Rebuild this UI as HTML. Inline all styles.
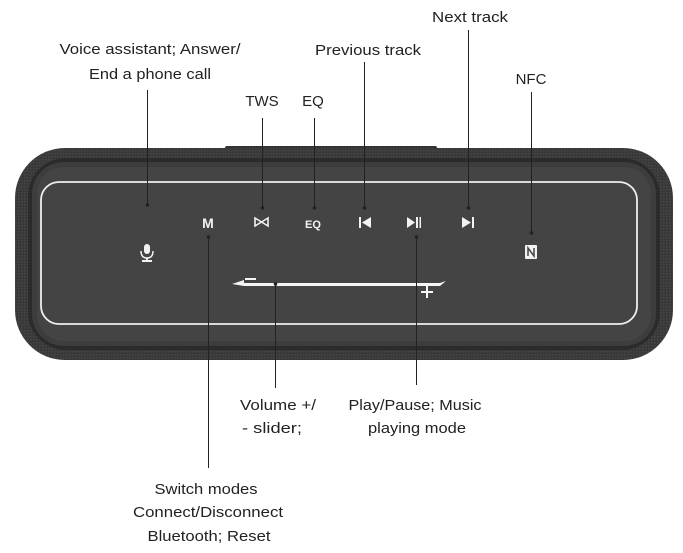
<!DOCTYPE html>
<html><head><meta charset="utf-8"><style>html,body{margin:0;padding:0;background:#fff}svg{display:block}</style></head>
<body>
<svg width="683" height="553" viewBox="0 0 683 553" xmlns="http://www.w3.org/2000/svg" font-family="Liberation Sans, sans-serif" font-size="15" fill="#222">
<defs>
<pattern id="fab" width="3" height="3" patternUnits="userSpaceOnUse"><rect width="3" height="3" fill="#383838"/><rect width="1.5" height="1.5" fill="#474747"/></pattern>
</defs>
<path d="M222 152 L226 146 L436 146 L440 152 Z" fill="#333"/>
<rect x="15" y="148" width="658" height="212" rx="50" fill="url(#fab)"/>
<rect x="28" y="158" width="632" height="192" rx="38" fill="#2b2b2b"/>
<rect x="32" y="162" width="624" height="184" rx="32" fill="#3d3d3d"/>
<rect x="37" y="167" width="614" height="174" rx="27" fill="#444"/>
<rect x="41" y="182" width="596" height="142" rx="18" fill="none" stroke="#eee" stroke-width="1.8"/>
<g fill="#f2f2f2" font-weight="bold" font-size="13">
<text x="208" y="228" text-anchor="middle" font-size="14">M</text>
<text x="313" y="228" text-anchor="middle" font-size="11">EQ</text>
</g>
<path d="M255 218 L268 226 L268 218 L255 226 Z" fill="none" stroke="#f2f2f2" stroke-width="1.6"/>
<rect x="359" y="217" width="2" height="11" fill="#f2f2f2"/><path d="M362 222.5 L371 217 L371 228 Z" fill="#f2f2f2"/>
<path d="M407 217 L415 222.5 L407 228 Z" fill="#f2f2f2"/><rect x="416" y="217" width="2" height="11" fill="#f2f2f2"/><rect x="419.5" y="217" width="1.5" height="11" fill="#f2f2f2"/>
<path d="M462 217 L471 222.5 L462 228 Z" fill="#f2f2f2"/><rect x="472" y="217" width="2" height="11" fill="#f2f2f2"/>
<rect x="144" y="244" width="6" height="10" rx="3" fill="#f2f2f2"/>
<path d="M141 251 Q141 258 147 258 Q153 258 153 251" fill="none" stroke="#f2f2f2" stroke-width="1.5"/>
<rect x="146" y="258" width="2" height="3" fill="#f2f2f2"/><rect x="142" y="260" width="10" height="2" fill="#f2f2f2"/>
<rect x="525" y="245" width="12" height="14" rx="1" fill="#f2f2f2"/>
<path d="M528 256 L528 248 L534 256 L534 248" fill="none" stroke="#444" stroke-width="1.5"/>
<path d="M232 284 L244 280 L244 283 L440 283 L446 281 L440 286 L244 286 Z" fill="#f5f5f5"/>
<rect x="245" y="278" width="11" height="2" fill="#f5f5f5"/>
<rect x="421" y="291" width="12" height="2" fill="#f5f5f5"/><rect x="426" y="286" width="2" height="12" fill="#f5f5f5"/>
<g stroke="#222" stroke-width="1">
<line x1="147.5" y1="90" x2="147.5" y2="205"/>
<line x1="262.5" y1="118" x2="262.5" y2="208"/>
<line x1="314.5" y1="118" x2="314.5" y2="208"/>
<line x1="364.5" y1="62" x2="364.5" y2="208"/>
<line x1="468.5" y1="30" x2="468.5" y2="208"/>
<line x1="531.5" y1="92" x2="531.5" y2="233"/>
<line x1="208.5" y1="237" x2="208.5" y2="468"/>
<line x1="275.5" y1="284" x2="275.5" y2="388"/>
<line x1="416.5" y1="237" x2="416.5" y2="385"/>
</g>
<g fill="#222"><circle cx="147.5" cy="205" r="1.8"/><circle cx="262.5" cy="208" r="1.8"/><circle cx="314.5" cy="208" r="1.8"/><circle cx="364.5" cy="208" r="1.8"/><circle cx="468.5" cy="208" r="1.8"/><circle cx="531.5" cy="233" r="1.8"/><circle cx="208.5" cy="237" r="1.8"/><circle cx="275.5" cy="284" r="1.8"/><circle cx="416.5" cy="237" r="1.8"/></g>
<g text-anchor="middle">
<text x="150" y="54" textLength="181" lengthAdjust="spacingAndGlyphs">Voice assistant; Answer/</text>
<text x="150" y="79" textLength="122" lengthAdjust="spacingAndGlyphs">End a phone call</text>
<text x="262" y="106">TWS</text>
<text x="313" y="106">EQ</text>
<text x="368" y="55" textLength="106" lengthAdjust="spacingAndGlyphs">Previous track</text>
<text x="470" y="22" textLength="76" lengthAdjust="spacingAndGlyphs">Next track</text>
<text x="531" y="84">NFC</text>
<text x="278" y="410" textLength="76" lengthAdjust="spacingAndGlyphs">Volume +/</text>
<text x="272" y="433" textLength="60" lengthAdjust="spacingAndGlyphs">- slider;</text>
<text x="415" y="410" textLength="133" lengthAdjust="spacingAndGlyphs">Play/Pause; Music</text>
<text x="417" y="433" textLength="98" lengthAdjust="spacingAndGlyphs">playing mode</text>
<text x="206" y="494" textLength="103" lengthAdjust="spacingAndGlyphs">Switch modes</text>
<text x="208" y="517" textLength="150" lengthAdjust="spacingAndGlyphs">Connect/Disconnect</text>
<text x="209" y="541" textLength="123" lengthAdjust="spacingAndGlyphs">Bluetooth; Reset</text>
</g>
</svg>
</body></html>
